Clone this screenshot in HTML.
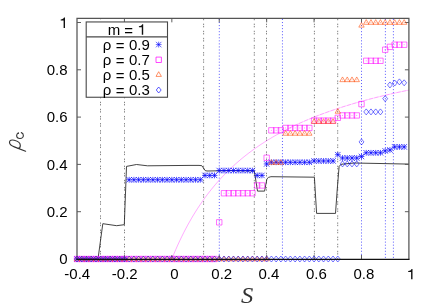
<!DOCTYPE html>
<html><head><meta charset="utf-8"><title>rho_c vs S</title>
<style>html,body{margin:0;padding:0;background:#fff;}svg{display:block;}</style></head>
<body><svg width="436" height="306" viewBox="0 0 436 306">
<rect width="436" height="306" fill="#fff"/>
<line x1="100.50" y1="18.35" x2="100.50" y2="259.0" stroke="#222" stroke-width="0.9" stroke-dasharray="1.4 0.9 1.4 3.4" stroke-dashoffset="1.8" stroke-opacity="0.62"/>
<line x1="124.50" y1="18.35" x2="124.50" y2="259.0" stroke="#222" stroke-width="0.9" stroke-dasharray="1.4 0.9 1.4 3.4" stroke-dashoffset="1.8" stroke-opacity="0.62"/>
<line x1="203.60" y1="18.35" x2="203.60" y2="259.0" stroke="#222" stroke-width="0.9" stroke-dasharray="1.4 0.9 1.4 3.4" stroke-dashoffset="1.8" stroke-opacity="0.62"/>
<line x1="254.30" y1="18.35" x2="254.30" y2="259.0" stroke="#222" stroke-width="0.9" stroke-dasharray="1.4 0.9 1.4 3.4" stroke-dashoffset="1.8" stroke-opacity="0.62"/>
<line x1="266.50" y1="18.35" x2="266.50" y2="259.0" stroke="#222" stroke-width="0.9" stroke-dasharray="1.4 0.9 1.4 3.4" stroke-dashoffset="1.8" stroke-opacity="0.62"/>
<line x1="314.40" y1="18.35" x2="314.40" y2="259.0" stroke="#222" stroke-width="0.9" stroke-dasharray="1.4 0.9 1.4 3.4" stroke-dashoffset="1.8" stroke-opacity="0.62"/>
<line x1="337.70" y1="18.35" x2="337.70" y2="259.0" stroke="#222" stroke-width="0.9" stroke-dasharray="1.4 0.9 1.4 3.4" stroke-dashoffset="1.8" stroke-opacity="0.62"/>
<line x1="219.30" y1="18.35" x2="219.30" y2="259.0" stroke="#0000ff" stroke-width="0.85" stroke-dasharray="1.05 2.0" stroke-dashoffset="2.45" stroke-opacity="0.75"/>
<line x1="282.45" y1="18.35" x2="282.45" y2="259.0" stroke="#0000ff" stroke-width="0.85" stroke-dasharray="1.05 2.0" stroke-dashoffset="2.45" stroke-opacity="0.75"/>
<line x1="361.50" y1="18.35" x2="361.50" y2="259.0" stroke="#0000ff" stroke-width="0.85" stroke-dasharray="1.05 2.0" stroke-dashoffset="2.45" stroke-opacity="0.75"/>
<line x1="385.40" y1="18.35" x2="385.40" y2="259.0" stroke="#0000ff" stroke-width="0.85" stroke-dasharray="1.05 2.0" stroke-dashoffset="2.45" stroke-opacity="0.75"/>
<line x1="393.40" y1="18.35" x2="393.40" y2="259.0" stroke="#0000ff" stroke-width="0.85" stroke-dasharray="1.05 2.0" stroke-dashoffset="2.45" stroke-opacity="0.75"/>
<rect x="86.4" y="19.3" width="81.2" height="3" fill="#fff"/>
<polyline points="76.50,259.00 98.00,259.00 102.80,223.70 116.70,225.70 124.30,224.70 126.50,166.40 136.50,164.50 147.50,165.80 190.00,165.40 199.00,165.40 201.80,165.70 203.50,168.00 205.20,170.60 207.00,171.00 230.00,170.60 254.30,170.90 257.50,191.10 264.60,191.10 266.90,178.90 268.50,177.40 270.90,176.70 314.40,177.20 316.60,213.40 335.50,213.40 337.20,190.00 339.10,166.50 341.00,164.30 354.00,163.00 380.00,163.50 409.00,164.10" fill="none" stroke="#222" stroke-width="0.85" stroke-linejoin="round"/>
<polyline points="171.83,259.00 173.81,254.17 175.78,249.54 177.76,245.09 179.73,240.81 181.71,236.69 183.68,232.72 185.66,228.90 187.63,225.21 189.61,221.66 191.59,218.22 193.56,214.91 195.54,211.70 197.51,208.60 199.49,205.60 201.46,202.69 203.44,199.88 205.41,197.15 207.39,194.50 209.37,191.93 211.34,189.44 213.32,187.02 215.29,184.67 217.27,182.39 219.24,180.17 221.22,178.01 223.20,175.91 225.17,173.86 227.15,171.87 229.12,169.93 231.10,168.04 233.07,166.20 235.05,164.40 237.02,162.65 239.00,160.94 240.98,159.27 242.95,157.64 244.93,156.05 246.90,154.50 248.88,152.98 250.85,151.50 252.83,150.05 254.80,148.63 256.78,147.25 258.76,145.89 260.73,144.56 262.71,143.27 264.68,141.99 266.66,140.75 268.63,139.53 270.61,138.34 272.58,137.17 274.56,136.02 276.54,134.90 278.51,133.79" fill="none" stroke="#ff00ff" stroke-width="0.6" stroke-opacity="0.56"/>
<polyline points="278.51,133.79 280.49,132.71 282.46,131.65 284.44,130.61 286.41,129.59 288.39,128.59 290.37,127.61 292.34,126.65 294.32,125.70 296.29,124.77 298.27,123.86 300.24,122.96 302.22,122.08 304.19,121.21 306.17,120.36 308.15,119.53 310.12,118.70 312.10,117.89 314.07,117.10 316.05,116.32 318.02,115.55 320.00,114.79 321.97,114.05 323.95,113.32 325.93,112.60 327.90,111.89 329.88,111.19 331.85,110.50 333.83,109.82 335.80,109.16 337.78,108.50 339.75,107.85 341.73,107.22 343.71,106.59 345.68,105.97 347.66,105.36 349.63,104.76 351.61,104.17 353.58,103.59 355.56,103.01 357.53,102.44 359.51,101.88 361.49,101.33 363.46,100.79 365.44,100.25 367.41,99.72 369.39,99.20 371.36,98.69 373.34,98.18 375.32,97.68 377.29,97.18 379.27,96.70 381.24,96.21 383.22,95.74 385.19,95.27 387.17,94.81 389.14,94.35 391.12,93.90 393.10,93.45 395.07,93.01 397.05,92.57 399.02,92.14 401.00,91.72 402.97,91.30 404.95,90.89 406.92,90.48 408.90,90.07" fill="none" stroke="#ff00ff" stroke-width="0.6" stroke-opacity="0.3"/>
<polyline points="278.51,133.79 280.49,132.71 282.46,131.65 284.44,130.61 286.41,129.59 288.39,128.59 290.37,127.61 292.34,126.65 294.32,125.70 296.29,124.77 298.27,123.86 300.24,122.96 302.22,122.08 304.19,121.21 306.17,120.36 308.15,119.53 310.12,118.70 312.10,117.89 314.07,117.10 316.05,116.32 318.02,115.55 320.00,114.79 321.97,114.05 323.95,113.32 325.93,112.60 327.90,111.89 329.88,111.19 331.85,110.50 333.83,109.82 335.80,109.16 337.78,108.50 339.75,107.85 341.73,107.22 343.71,106.59 345.68,105.97 347.66,105.36 349.63,104.76 351.61,104.17 353.58,103.59 355.56,103.01 357.53,102.44 359.51,101.88 361.49,101.33 363.46,100.79 365.44,100.25 367.41,99.72 369.39,99.20 371.36,98.69 373.34,98.18 375.32,97.68 377.29,97.18 379.27,96.70 381.24,96.21 383.22,95.74 385.19,95.27 387.17,94.81 389.14,94.35 391.12,93.90 393.10,93.45 395.07,93.01 397.05,92.57 399.02,92.14 401.00,91.72 402.97,91.30 404.95,90.89 406.92,90.48 408.90,90.07" fill="none" stroke="#ff00ff" stroke-width="0.6" stroke-opacity="0.4" stroke-dasharray="4.2 1.5"/>
<path d="M77.0 259.3V18.35H408.9V259.3" fill="none" stroke="#555" stroke-width="1.25"/>
<path d="M124.42 259.0v-4M124.42 18.35v4M171.83 259.0v-4M171.83 18.35v4M219.24 259.0v-4M219.24 18.35v4M266.66 259.0v-4M266.66 18.35v4M314.07 259.0v-4M314.07 18.35v4M361.49 259.0v-4M361.49 18.35v4M77.0 211.70h4M408.9 211.70h-4M77.0 164.40h4M408.9 164.40h-4M77.0 117.10h4M408.9 117.10h-4M77.0 69.80h4M408.9 69.80h-4M77.0 22.50h4M408.9 22.50h-4" fill="none" stroke="#555" stroke-width="0.95"/>
<path d="M74.10 259.00H79.90M77.00 256.10V261.90M74.25 256.25L79.75 261.75M74.25 261.75L79.75 256.25M78.84 259.00H84.64M81.74 256.10V261.90M78.99 256.25L84.49 261.75M78.99 261.75L84.49 256.25M83.58 259.00H89.38M86.48 256.10V261.90M83.73 256.25L89.23 261.75M83.73 261.75L89.23 256.25M88.33 259.00H94.13M91.23 256.10V261.90M88.48 256.25L93.98 261.75M88.48 261.75L93.98 256.25M93.07 259.00H98.87M95.97 256.10V261.90M93.22 256.25L98.72 261.75M93.22 261.75L98.72 256.25M97.81 259.00H103.61M100.71 256.10V261.90M97.96 256.25L103.46 261.75M97.96 261.75L103.46 256.25M102.55 259.00H108.35M105.45 256.10V261.90M102.70 256.25L108.20 261.75M102.70 261.75L108.20 256.25M107.29 259.00H113.09M110.19 256.10V261.90M107.44 256.25L112.94 261.75M107.44 261.75L112.94 256.25M112.03 259.00H117.83M114.93 256.10V261.90M112.18 256.25L117.68 261.75M112.18 261.75L117.68 256.25M116.77 259.00H122.57M119.67 256.10V261.90M116.92 256.25L122.42 261.75M116.92 261.75L122.42 256.25M121.52 259.00H127.32M124.42 256.10V261.90M121.67 256.25L127.17 261.75M121.67 261.75L127.17 256.25M126.26 179.77H132.06M129.16 176.87V182.67M126.41 177.02L131.91 182.52M126.41 182.52L131.91 177.02M131.00 179.77H136.80M133.90 176.87V182.67M131.15 177.02L136.65 182.52M131.15 182.52L136.65 177.02M135.74 179.77H141.54M138.64 176.87V182.67M135.89 177.02L141.39 182.52M135.89 182.52L141.39 177.02M140.48 179.77H146.28M143.38 176.87V182.67M140.63 177.02L146.13 182.52M140.63 182.52L146.13 177.02M145.22 179.77H151.02M148.12 176.87V182.67M145.37 177.02L150.87 182.52M145.37 182.52L150.87 177.02M149.96 179.77H155.76M152.86 176.87V182.67M150.11 177.02L155.61 182.52M150.11 182.52L155.61 177.02M154.71 179.77H160.51M157.61 176.87V182.67M154.86 177.02L160.36 182.52M154.86 182.52L160.36 177.02M159.45 179.77H165.25M162.35 176.87V182.67M159.60 177.02L165.10 182.52M159.60 182.52L165.10 177.02M164.19 179.77H169.99M167.09 176.87V182.67M164.34 177.02L169.84 182.52M164.34 182.52L169.84 177.02M168.93 179.77H174.73M171.83 176.87V182.67M169.08 177.02L174.58 182.52M169.08 182.52L174.58 177.02M173.67 179.77H179.47M176.57 176.87V182.67M173.82 177.02L179.32 182.52M173.82 182.52L179.32 177.02M178.41 179.77H184.21M181.31 176.87V182.67M178.56 177.02L184.06 182.52M178.56 182.52L184.06 177.02M183.15 179.77H188.95M186.05 176.87V182.67M183.30 177.02L188.80 182.52M183.30 182.52L188.80 177.02M187.90 179.77H193.70M190.80 176.87V182.67M188.05 177.02L193.55 182.52M188.05 182.52L193.55 177.02M192.64 179.77H198.44M195.54 176.87V182.67M192.79 177.02L198.29 182.52M192.79 182.52L198.29 177.02M197.38 179.77H203.18M200.28 176.87V182.67M197.53 177.02L203.03 182.52M197.53 182.52L203.03 177.02M202.12 175.40H207.92M205.02 172.50V178.30M202.27 172.65L207.77 178.15M202.27 178.15L207.77 172.65M206.86 175.40H212.66M209.76 172.50V178.30M207.01 172.65L212.51 178.15M207.01 178.15L212.51 172.65M211.60 175.40H217.40M214.50 172.50V178.30M211.75 172.65L217.25 178.15M211.75 178.15L217.25 172.65M216.34 170.55H222.14M219.24 167.65V173.45M216.49 167.80L221.99 173.30M216.49 173.30L221.99 167.80M221.09 170.55H226.89M223.99 167.65V173.45M221.24 167.80L226.74 173.30M221.24 173.30L226.74 167.80M225.83 170.55H231.63M228.73 167.65V173.45M225.98 167.80L231.48 173.30M225.98 173.30L231.48 167.80M230.57 170.55H236.37M233.47 167.65V173.45M230.72 167.80L236.22 173.30M230.72 173.30L236.22 167.80M235.31 170.55H241.11M238.21 167.65V173.45M235.46 167.80L240.96 173.30M235.46 173.30L240.96 167.80M240.05 170.55H245.85M242.95 167.65V173.45M240.20 167.80L245.70 173.30M240.20 173.30L245.70 167.80M244.79 170.55H250.59M247.69 167.65V173.45M244.94 167.80L250.44 173.30M244.94 173.30L250.44 167.80M249.53 170.55H255.33M252.43 167.65V173.45M249.68 167.80L255.18 173.30M249.68 173.30L255.18 167.80M254.28 175.40H260.08M257.18 172.50V178.30M254.43 172.65L259.93 178.15M254.43 178.15L259.93 172.65M259.02 175.40H264.82M261.92 172.50V178.30M259.17 172.65L264.67 178.15M259.17 178.15L264.67 172.65M263.76 163.93H269.56M266.66 161.03V166.83M263.91 161.18L269.41 166.68M263.91 166.68L269.41 161.18M268.50 162.27H274.30M271.40 159.37V165.17M268.65 159.52L274.15 165.02M268.65 165.02L274.15 159.52M273.24 162.27H279.04M276.14 159.37V165.17M273.39 159.52L278.89 165.02M273.39 165.02L278.89 159.52M277.98 162.27H283.78M280.88 159.37V165.17M278.13 159.52L283.63 165.02M278.13 165.02L283.63 159.52M282.72 162.27H288.52M285.62 159.37V165.17M282.87 159.52L288.37 165.02M282.87 165.02L288.37 159.52M287.47 162.27H293.26M290.37 159.37V165.17M287.62 159.52L293.12 165.02M287.62 165.02L293.12 159.52M292.21 162.27H298.01M295.11 159.37V165.17M292.36 159.52L297.86 165.02M292.36 165.02L297.86 159.52M296.95 162.27H302.75M299.85 159.37V165.17M297.10 159.52L302.60 165.02M297.10 165.02L302.60 159.52M301.69 162.27H307.49M304.59 159.37V165.17M301.84 159.52L307.34 165.02M301.84 165.02L307.34 159.52M306.43 162.27H312.23M309.33 159.37V165.17M306.58 159.52L312.08 165.02M306.58 165.02L312.08 159.52M311.17 160.97H316.97M314.07 158.07V163.87M311.32 158.22L316.82 163.72M311.32 163.72L316.82 158.22M315.91 160.97H321.71M318.81 158.07V163.87M316.06 158.22L321.56 163.72M316.06 163.72L321.56 158.22M320.65 160.97H326.45M323.55 158.07V163.87M320.80 158.22L326.30 163.72M320.80 163.72L326.30 158.22M325.40 160.97H331.20M328.30 158.07V163.87M325.55 158.22L331.05 163.72M325.55 163.72L331.05 158.22M330.14 160.97H335.94M333.04 158.07V163.87M330.29 158.22L335.79 163.72M330.29 163.72L335.79 158.22M334.88 154.70H340.68M337.78 151.80V157.60M335.03 151.95L340.53 157.45M335.03 157.45L340.53 151.95M339.62 158.01H345.42M342.52 155.11V160.91M339.77 155.26L345.27 160.76M339.77 160.76L345.27 155.26M344.36 158.01H350.16M347.26 155.11V160.91M344.51 155.26L350.01 160.76M344.51 160.76L350.01 155.26M349.10 158.01H354.90M352.00 155.11V160.91M349.25 155.26L354.75 160.76M349.25 160.76L354.75 155.26M353.84 158.01H359.64M356.74 155.11V160.91M353.99 155.26L359.49 160.76M353.99 160.76L359.49 155.26M358.59 156.48H364.39M361.49 153.58V159.38M358.74 153.73L364.24 159.23M358.74 159.23L364.24 153.73M363.33 152.81H369.13M366.23 149.91V155.71M363.48 150.06L368.98 155.56M363.48 155.56L368.98 150.06M368.07 152.81H373.87M370.97 149.91V155.71M368.22 150.06L373.72 155.56M368.22 155.56L373.72 150.06M372.81 152.81H378.61M375.71 149.91V155.71M372.96 150.06L378.46 155.56M372.96 155.56L378.46 150.06M377.55 152.81H383.35M380.45 149.91V155.71M377.70 150.06L383.20 155.56M377.70 155.56L383.20 150.06M382.29 150.92H388.09M385.19 148.02V153.82M382.44 148.17L387.94 153.67M382.44 153.67L387.94 148.17M387.03 149.97H392.83M389.93 147.07V152.87M387.18 147.22L392.68 152.72M387.18 152.72L392.68 147.22M391.78 146.90H397.58M394.68 144.00V149.80M391.93 144.15L397.43 149.65M391.93 149.65L397.43 144.15M396.52 146.90H402.32M399.42 144.00V149.80M396.67 144.15L402.17 149.65M396.67 149.65L402.17 144.15M401.26 146.90H407.06M404.16 144.00V149.80M401.41 144.15L406.91 149.65M401.41 149.65L406.91 144.15" fill="none" stroke="#0000ff" stroke-width="0.7" stroke-opacity="1"/>
<path d="M74.30 256.30H79.70V261.70H74.30ZM79.04 256.30H84.44V261.70H79.04ZM83.78 256.30H89.18V261.70H83.78ZM88.53 256.30H93.93V261.70H88.53ZM93.27 256.30H98.67V261.70H93.27ZM98.01 256.30H103.41V261.70H98.01ZM102.75 256.30H108.15V261.70H102.75ZM107.49 256.30H112.89V261.70H107.49ZM112.23 256.30H117.63V261.70H112.23ZM116.97 256.30H122.37V261.70H116.97ZM121.72 256.30H127.12V261.70H121.72ZM126.46 256.30H131.86V261.70H126.46ZM131.20 256.30H136.60V261.70H131.20ZM135.94 256.30H141.34V261.70H135.94ZM140.68 256.30H146.08V261.70H140.68ZM145.42 256.30H150.82V261.70H145.42ZM150.16 256.30H155.56V261.70H150.16ZM154.91 256.30H160.31V261.70H154.91ZM159.65 256.30H165.05V261.70H159.65ZM164.39 256.30H169.79V261.70H164.39ZM169.13 256.30H174.53V261.70H169.13ZM173.87 256.30H179.27V261.70H173.87ZM178.61 256.30H184.01V261.70H178.61ZM183.35 256.30H188.75V261.70H183.35ZM188.10 256.30H193.50V261.70H188.10ZM192.84 256.30H198.24V261.70H192.84ZM197.58 256.30H202.98V261.70H197.58ZM202.32 256.30H207.72V261.70H202.32ZM207.06 256.30H212.46V261.70H207.06ZM211.80 256.30H217.20V261.70H211.80ZM216.54 219.64H221.94V225.04H216.54ZM221.29 190.55H226.69V195.95H221.29ZM226.03 190.55H231.43V195.95H226.03ZM230.77 190.55H236.17V195.95H230.77ZM235.51 190.55H240.91V195.95H235.51ZM240.25 190.55H245.65V195.95H240.25ZM244.99 190.55H250.39V195.95H244.99ZM249.73 190.55H255.13V195.95H249.73ZM254.48 182.75H259.88V188.15H254.48ZM259.22 182.75H264.62V188.15H259.22ZM263.96 155.08H269.36V160.48H263.96ZM268.70 127.64H274.10V133.04H268.70ZM273.44 127.64H278.84V133.04H273.44ZM278.18 127.64H283.58V133.04H278.18ZM282.92 125.28H288.32V130.68H282.92ZM287.67 125.28H293.06V130.68H287.67ZM292.41 125.28H297.81V130.68H292.41ZM297.15 125.28H302.55V130.68H297.15ZM301.89 125.28H307.29V130.68H301.89ZM306.63 125.28H312.03V130.68H306.63ZM311.37 117.95H316.77V123.35H311.37ZM316.11 117.95H321.51V123.35H316.11ZM320.85 117.95H326.25V123.35H320.85ZM325.60 117.95H331.00V123.35H325.60ZM330.34 117.95H335.74V123.35H330.34ZM335.08 115.11H340.48V120.51H335.08ZM339.82 112.74H345.22V118.14H339.82ZM344.56 112.74H349.96V118.14H344.56ZM349.30 112.74H354.70V118.14H349.30ZM354.04 112.74H359.44V118.14H354.04ZM358.79 101.39H364.19V106.79H358.79ZM363.53 58.11H368.93V63.51H363.53ZM368.27 58.11H373.67V63.51H368.27ZM373.01 58.11H378.41V63.51H373.01ZM377.75 58.11H383.15V63.51H377.75ZM382.49 47.00H387.89V52.40H382.49ZM387.23 44.16H392.63V49.56H387.23ZM391.98 42.03H397.38V47.43H391.98ZM396.72 42.03H402.12V47.43H396.72ZM401.46 42.03H406.86V47.43H401.46Z" fill="none" stroke="#ff00ff" stroke-width="0.8" stroke-opacity="0.7"/>
<path d="M76.50 259.00h1M81.24 259.00h1M85.98 259.00h1M90.73 259.00h1M95.47 259.00h1M100.21 259.00h1M104.95 259.00h1M109.69 259.00h1M114.43 259.00h1M119.17 259.00h1M123.92 259.00h1M128.66 259.00h1M133.40 259.00h1M138.14 259.00h1M142.88 259.00h1M147.62 259.00h1M152.36 259.00h1M157.11 259.00h1M161.85 259.00h1M166.59 259.00h1M171.33 259.00h1M176.07 259.00h1M180.81 259.00h1M185.55 259.00h1M190.30 259.00h1M195.04 259.00h1M199.78 259.00h1M204.52 259.00h1M209.26 259.00h1M214.00 259.00h1M218.74 222.34h1M223.49 193.25h1M228.23 193.25h1M232.97 193.25h1M237.71 193.25h1M242.45 193.25h1M247.19 193.25h1M251.93 193.25h1M256.68 185.45h1M261.42 185.45h1M266.16 157.78h1M270.90 130.34h1M275.64 130.34h1M280.38 130.34h1M285.12 127.98h1M289.87 127.98h1M294.61 127.98h1M299.35 127.98h1M304.09 127.98h1M308.83 127.98h1M313.57 120.65h1M318.31 120.65h1M323.05 120.65h1M327.80 120.65h1M332.54 120.65h1M337.28 117.81h1M342.02 115.44h1M346.76 115.44h1M351.50 115.44h1M356.24 115.44h1M360.99 104.09h1M365.73 60.81h1M370.47 60.81h1M375.21 60.81h1M379.95 60.81h1M384.69 49.70h1M389.43 46.86h1M394.18 44.73h1M398.92 44.73h1M403.66 44.73h1" fill="none" stroke="#ff00ff" stroke-width="1" stroke-opacity="0.45"/>
<path d="M77.00 256.10L79.70 260.80H74.30ZM81.74 256.10L84.44 260.80H79.04ZM86.48 256.10L89.18 260.80H83.78ZM91.23 256.10L93.93 260.80H88.53ZM95.97 256.10L98.67 260.80H93.27ZM100.71 256.10L103.41 260.80H98.01ZM105.45 256.10L108.15 260.80H102.75ZM110.19 256.10L112.89 260.80H107.49ZM114.93 256.10L117.63 260.80H112.23ZM119.67 256.10L122.37 260.80H116.97ZM124.42 256.10L127.12 260.80H121.72ZM129.16 256.10L131.86 260.80H126.46ZM133.90 256.10L136.60 260.80H131.20ZM138.64 256.10L141.34 260.80H135.94ZM143.38 256.10L146.08 260.80H140.68ZM148.12 256.10L150.82 260.80H145.42ZM152.86 256.10L155.56 260.80H150.16ZM157.61 256.10L160.31 260.80H154.91ZM162.35 256.10L165.05 260.80H159.65ZM167.09 256.10L169.79 260.80H164.39ZM171.83 256.10L174.53 260.80H169.13ZM176.57 256.10L179.27 260.80H173.87ZM181.31 256.10L184.01 260.80H178.61ZM186.05 256.10L188.75 260.80H183.35ZM190.80 256.10L193.50 260.80H188.10ZM195.54 256.10L198.24 260.80H192.84ZM200.28 256.10L202.98 260.80H197.58ZM205.02 256.10L207.72 260.80H202.32ZM209.76 256.10L212.46 260.80H207.06ZM214.50 256.10L217.20 260.80H211.80ZM219.24 256.10L221.94 260.80H216.54ZM223.99 256.10L226.69 260.80H221.29ZM228.73 256.10L231.43 260.80H226.03ZM233.47 256.10L236.17 260.80H230.77ZM238.21 256.10L240.91 260.80H235.51ZM242.95 256.10L245.65 260.80H240.25ZM247.69 256.10L250.39 260.80H244.99ZM252.43 256.10L255.13 260.80H249.73ZM257.18 256.10L259.88 260.80H254.48ZM261.92 256.10L264.62 260.80H259.22ZM266.66 256.10L269.36 260.80H263.96ZM271.40 159.61L274.10 164.31H268.70ZM276.14 159.61L278.84 164.31H273.44ZM280.88 159.61L283.58 164.31H278.18ZM285.62 130.52L288.32 135.22H282.92ZM290.37 130.52L293.06 135.22H287.67ZM295.11 130.52L297.81 135.22H292.41ZM299.85 130.52L302.55 135.22H297.15ZM304.59 130.52L307.29 135.22H301.89ZM309.33 130.52L312.03 135.22H306.63ZM314.07 118.69L316.77 123.39H311.37ZM318.81 118.69L321.51 123.39H316.11ZM323.55 118.69L326.25 123.39H320.85ZM328.30 118.69L331.00 123.39H325.60ZM333.04 118.69L335.74 123.39H330.34ZM337.78 108.52L340.48 113.22H335.08ZM342.52 76.95L345.22 81.65H339.82ZM347.26 76.95L349.96 81.65H344.56ZM352.00 76.95L354.70 81.65H349.30ZM356.74 76.95L359.44 81.65H354.04ZM361.49 22.44L364.19 27.14H358.79ZM366.23 19.60L368.93 24.30H363.53ZM370.97 19.60L373.67 24.30H368.27ZM375.71 19.60L378.41 24.30H373.01ZM380.45 19.60L383.15 24.30H377.75ZM385.19 19.60L387.89 24.30H382.49ZM389.93 19.60L392.63 24.30H387.23ZM394.68 19.60L397.38 24.30H391.98ZM399.42 19.60L402.12 24.30H396.72ZM404.16 19.60L406.86 24.30H401.46Z" fill="none" stroke="#ff5210" stroke-width="0.75" stroke-opacity="0.8"/>
<path d="M76.50 259.00h1M81.24 259.00h1M85.98 259.00h1M90.73 259.00h1M95.47 259.00h1M100.21 259.00h1M104.95 259.00h1M109.69 259.00h1M114.43 259.00h1M119.17 259.00h1M123.92 259.00h1M128.66 259.00h1M133.40 259.00h1M138.14 259.00h1M142.88 259.00h1M147.62 259.00h1M152.36 259.00h1M157.11 259.00h1M161.85 259.00h1M166.59 259.00h1M171.33 259.00h1M176.07 259.00h1M180.81 259.00h1M185.55 259.00h1M190.30 259.00h1M195.04 259.00h1M199.78 259.00h1M204.52 259.00h1M209.26 259.00h1M214.00 259.00h1M218.74 259.00h1M223.49 259.00h1M228.23 259.00h1M232.97 259.00h1M237.71 259.00h1M242.45 259.00h1M247.19 259.00h1M251.93 259.00h1M256.68 259.00h1M261.42 259.00h1M266.16 259.00h1M270.90 162.51h1M275.64 162.51h1M280.38 162.51h1M285.12 133.42h1M289.87 133.42h1M294.61 133.42h1M299.35 133.42h1M304.09 133.42h1M308.83 133.42h1M313.57 121.59h1M318.31 121.59h1M323.05 121.59h1M327.80 121.59h1M332.54 121.59h1M337.28 111.42h1M342.02 79.85h1M346.76 79.85h1M351.50 79.85h1M356.24 79.85h1M360.99 25.34h1M365.73 22.50h1M370.47 22.50h1M375.21 22.50h1M379.95 22.50h1M384.69 22.50h1M389.43 22.50h1M394.18 22.50h1M398.92 22.50h1M403.66 22.50h1" fill="none" stroke="#ff4500" stroke-width="1" stroke-opacity="0.4"/>
<path d="M77.00 256.00L79.45 259.00L77.00 262.00L74.55 259.00ZM81.74 256.00L84.19 259.00L81.74 262.00L79.29 259.00ZM86.48 256.00L88.93 259.00L86.48 262.00L84.03 259.00ZM91.23 256.00L93.68 259.00L91.23 262.00L88.78 259.00ZM95.97 256.00L98.42 259.00L95.97 262.00L93.52 259.00ZM100.71 256.00L103.16 259.00L100.71 262.00L98.26 259.00ZM105.45 256.00L107.90 259.00L105.45 262.00L103.00 259.00ZM110.19 256.00L112.64 259.00L110.19 262.00L107.74 259.00ZM114.93 256.00L117.38 259.00L114.93 262.00L112.48 259.00ZM119.67 256.00L122.12 259.00L119.67 262.00L117.22 259.00ZM124.42 256.00L126.87 259.00L124.42 262.00L121.97 259.00ZM129.16 256.00L131.61 259.00L129.16 262.00L126.71 259.00ZM133.90 256.00L136.35 259.00L133.90 262.00L131.45 259.00ZM138.64 256.00L141.09 259.00L138.64 262.00L136.19 259.00ZM143.38 256.00L145.83 259.00L143.38 262.00L140.93 259.00ZM148.12 256.00L150.57 259.00L148.12 262.00L145.67 259.00ZM152.86 256.00L155.31 259.00L152.86 262.00L150.41 259.00ZM157.61 256.00L160.06 259.00L157.61 262.00L155.16 259.00ZM162.35 256.00L164.80 259.00L162.35 262.00L159.90 259.00ZM167.09 256.00L169.54 259.00L167.09 262.00L164.64 259.00ZM171.83 256.00L174.28 259.00L171.83 262.00L169.38 259.00ZM176.57 256.00L179.02 259.00L176.57 262.00L174.12 259.00ZM181.31 256.00L183.76 259.00L181.31 262.00L178.86 259.00ZM186.05 256.00L188.50 259.00L186.05 262.00L183.60 259.00ZM190.80 256.00L193.25 259.00L190.80 262.00L188.35 259.00ZM195.54 256.00L197.99 259.00L195.54 262.00L193.09 259.00ZM200.28 256.00L202.73 259.00L200.28 262.00L197.83 259.00ZM205.02 256.00L207.47 259.00L205.02 262.00L202.57 259.00ZM209.76 256.00L212.21 259.00L209.76 262.00L207.31 259.00ZM214.50 256.00L216.95 259.00L214.50 262.00L212.05 259.00ZM219.24 256.00L221.69 259.00L219.24 262.00L216.79 259.00ZM223.99 256.00L226.44 259.00L223.99 262.00L221.54 259.00ZM228.73 256.00L231.18 259.00L228.73 262.00L226.28 259.00ZM233.47 256.00L235.92 259.00L233.47 262.00L231.02 259.00ZM238.21 256.00L240.66 259.00L238.21 262.00L235.76 259.00ZM242.95 256.00L245.40 259.00L242.95 262.00L240.50 259.00ZM247.69 256.00L250.14 259.00L247.69 262.00L245.24 259.00ZM252.43 256.00L254.88 259.00L252.43 262.00L249.98 259.00ZM257.18 256.00L259.63 259.00L257.18 262.00L254.73 259.00ZM261.92 256.00L264.37 259.00L261.92 262.00L259.47 259.00ZM266.66 256.00L269.11 259.00L266.66 262.00L264.21 259.00ZM271.40 256.00L273.85 259.00L271.40 262.00L268.95 259.00ZM276.14 256.00L278.59 259.00L276.14 262.00L273.69 259.00ZM280.88 256.00L283.33 259.00L280.88 262.00L278.43 259.00ZM285.62 256.00L288.07 259.00L285.62 262.00L283.17 259.00ZM290.37 256.00L292.81 259.00L290.37 262.00L287.92 259.00ZM295.11 256.00L297.56 259.00L295.11 262.00L292.66 259.00ZM299.85 256.00L302.30 259.00L299.85 262.00L297.40 259.00ZM304.59 256.00L307.04 259.00L304.59 262.00L302.14 259.00ZM309.33 256.00L311.78 259.00L309.33 262.00L306.88 259.00ZM314.07 256.00L316.52 259.00L314.07 262.00L311.62 259.00ZM318.81 256.00L321.26 259.00L318.81 262.00L316.36 259.00ZM323.55 256.00L326.00 259.00L323.55 262.00L321.10 259.00ZM328.30 256.00L330.75 259.00L328.30 262.00L325.85 259.00ZM333.04 256.00L335.49 259.00L333.04 262.00L330.59 259.00ZM337.78 256.00L340.23 259.00L337.78 262.00L335.33 259.00ZM342.52 160.93L344.97 163.93L342.52 166.93L340.07 163.93ZM347.26 160.93L349.71 163.93L347.26 166.93L344.81 163.93ZM352.00 160.93L354.45 163.93L352.00 166.93L349.55 163.93ZM356.74 160.93L359.19 163.93L356.74 166.93L354.29 163.93ZM361.49 138.93L363.94 141.93L361.49 144.93L359.04 141.93ZM366.23 108.90L368.68 111.90L366.23 114.90L363.78 111.90ZM370.97 108.90L373.42 111.90L370.97 114.90L368.52 111.90ZM375.71 108.90L378.16 111.90L375.71 114.90L373.26 111.90ZM380.45 108.90L382.90 111.90L380.45 114.90L378.00 111.90ZM385.19 95.65L387.64 98.65L385.19 101.65L382.74 98.65ZM389.93 81.94L392.38 84.94L389.93 87.94L387.48 84.94ZM394.68 80.04L397.13 83.04L394.68 86.04L392.23 83.04ZM399.42 78.86L401.87 81.86L399.42 84.86L396.97 81.86ZM404.16 79.81L406.61 82.81L404.16 85.81L401.71 82.81Z" fill="none" stroke="#0000ff" stroke-width="0.65" stroke-opacity="0.85"/>
<path d="M76.50 259.00h1M81.24 259.00h1M85.98 259.00h1M90.73 259.00h1M95.47 259.00h1M100.21 259.00h1M104.95 259.00h1M109.69 259.00h1M114.43 259.00h1M119.17 259.00h1M123.92 259.00h1M128.66 259.00h1M133.40 259.00h1M138.14 259.00h1M142.88 259.00h1M147.62 259.00h1M152.36 259.00h1M157.11 259.00h1M161.85 259.00h1M166.59 259.00h1M171.33 259.00h1M176.07 259.00h1M180.81 259.00h1M185.55 259.00h1M190.30 259.00h1M195.04 259.00h1M199.78 259.00h1M204.52 259.00h1M209.26 259.00h1M214.00 259.00h1M218.74 259.00h1M223.49 259.00h1M228.23 259.00h1M232.97 259.00h1M237.71 259.00h1M242.45 259.00h1M247.19 259.00h1M251.93 259.00h1M256.68 259.00h1M261.42 259.00h1M266.16 259.00h1M270.90 259.00h1M275.64 259.00h1M280.38 259.00h1M285.12 259.00h1M289.87 259.00h1M294.61 259.00h1M299.35 259.00h1M304.09 259.00h1M308.83 259.00h1M313.57 259.00h1M318.31 259.00h1M323.05 259.00h1M327.80 259.00h1M332.54 259.00h1M337.28 259.00h1M342.02 163.93h1M346.76 163.93h1M351.50 163.93h1M356.24 163.93h1M360.99 141.93h1M365.73 111.90h1M370.47 111.90h1M375.21 111.90h1M379.95 111.90h1M384.69 98.65h1M389.43 84.94h1M394.18 83.04h1M398.92 81.86h1M403.66 82.81h1" fill="none" stroke="#0000ff" stroke-width="1" stroke-opacity="0.15"/>
<line x1="76.35" y1="259.4" x2="409.54999999999995" y2="259.4" stroke="#111" stroke-width="1.1"/>
<rect x="86.2" y="21.95" width="81.3" height="75.3" fill="#fff" stroke="#484848" stroke-width="1.1"/>
<line x1="86.2" y1="36.85" x2="167.5" y2="36.85" stroke="#484848" stroke-width="1.1"/>
<path d="M155.80 44.60H161.60M158.70 41.70V47.50M155.95 41.85L161.45 47.35M155.95 47.35L161.45 41.85" fill="none" stroke="#0000ff" stroke-width="0.6" stroke-opacity="1"/>
<path d="M156.00 57.10H161.40V62.50H156.00Z" fill="none" stroke="#ff00ff" stroke-width="0.9" stroke-opacity="0.8"/>
<path d="M158.70 71.70L161.40 76.40H156.00Z" fill="none" stroke="#ff5210" stroke-width="0.8" stroke-opacity="0.8"/>
<path d="M158.70 87.00L161.15 90.00L158.70 93.00L156.25 90.00Z" fill="none" stroke="#0000ff" stroke-width="0.75" stroke-opacity="0.85"/>
<path d="M412.50 279.30V268.90H411.50C411.20 270.00 409.90 270.80 408.20 270.90V271.95H411.10V279.30ZM65.00 27.90V17.50H64.00C63.70 18.60 62.40 19.40 60.70 19.50V20.55H63.60V27.90ZM143.20 34.70V24.30H142.20C141.90 25.40 140.60 26.20 138.90 26.30V27.35H141.80V34.70Z" fill="#111"/>
<g font-family="Liberation Sans, sans-serif" font-size="15" fill="#000" style="will-change:transform"><text x="64.3" y="279" text-anchor="start" >-0.4</text><text x="111.8" y="279" text-anchor="start" >-0.2</text><text x="170.3" y="279" text-anchor="start" >0</text><text x="211.3" y="279" text-anchor="start" >0.2</text><text x="258.4" y="279" text-anchor="start" >0.4</text><text x="305.9" y="279" text-anchor="start" >0.6</text><text x="353.4" y="279" text-anchor="start" >0.8</text><text x="67.6" y="264.20" text-anchor="end" >0</text><text x="67.6" y="216.90" text-anchor="end" >0.2</text><text x="67.6" y="169.60" text-anchor="end" >0.4</text><text x="67.6" y="122.30" text-anchor="end" >0.6</text><text x="67.6" y="75.00" text-anchor="end" >0.8</text><text x="107.7" y="34.6" text-anchor="start" >m <tspan dy="1.2">=</tspan></text><text x="149.8" y="49.80" text-anchor="end" word-spacing="0.3">ρ <tspan dy="1.1">=</tspan><tspan dy="-1.1"> 0.9</tspan></text><text x="149.8" y="64.87" text-anchor="end" word-spacing="0.3">ρ <tspan dy="1.1">=</tspan><tspan dy="-1.1"> 0.7</tspan></text><text x="149.8" y="79.94" text-anchor="end" word-spacing="0.3">ρ <tspan dy="1.1">=</tspan><tspan dy="-1.1"> 0.5</tspan></text><text x="149.8" y="95.01" text-anchor="end" word-spacing="0.3">ρ <tspan dy="1.1">=</tspan><tspan dy="-1.1"> 0.3</tspan></text></g>
<text x="0" y="0" transform="translate(247.2,303) scale(1.07,1)" text-anchor="middle" font-family="Liberation Serif, serif" font-style="italic" font-size="23" fill="#333" style="will-change:transform">S</text>
<g transform="translate(20.5,152.5) rotate(-90)" font-family="Liberation Serif, serif" fill="#333"><path d="M1.3 5.1L5.6 -6.2C6.6 -8.9 8.2 -11.0 10.2 -11.0C12.2 -11.0 12.9 -9.0 12.3 -6.3C11.6 -3.0 9.5 -0.2 7.0 -0.2C5.2 -0.2 4.0 -1.4 4.0 -2.6" fill="none" stroke="#333" stroke-width="1.15" stroke-linecap="round" stroke-linejoin="round"/><path d="M19.5 -2.0C18.9 -3.3 18.0 -3.85 17.0 -3.85C15.1 -3.85 14.05 -2.4 14.05 -0.5C14.05 1.5 15.2 2.85 17.1 2.85C18.5 2.85 19.5 2.1 19.9 0.8" fill="none" stroke="#333" stroke-width="1.1" stroke-linecap="round"/><circle cx="19.2" cy="-2.3" r="0.75" fill="#333"/></g>
</svg></body></html>
